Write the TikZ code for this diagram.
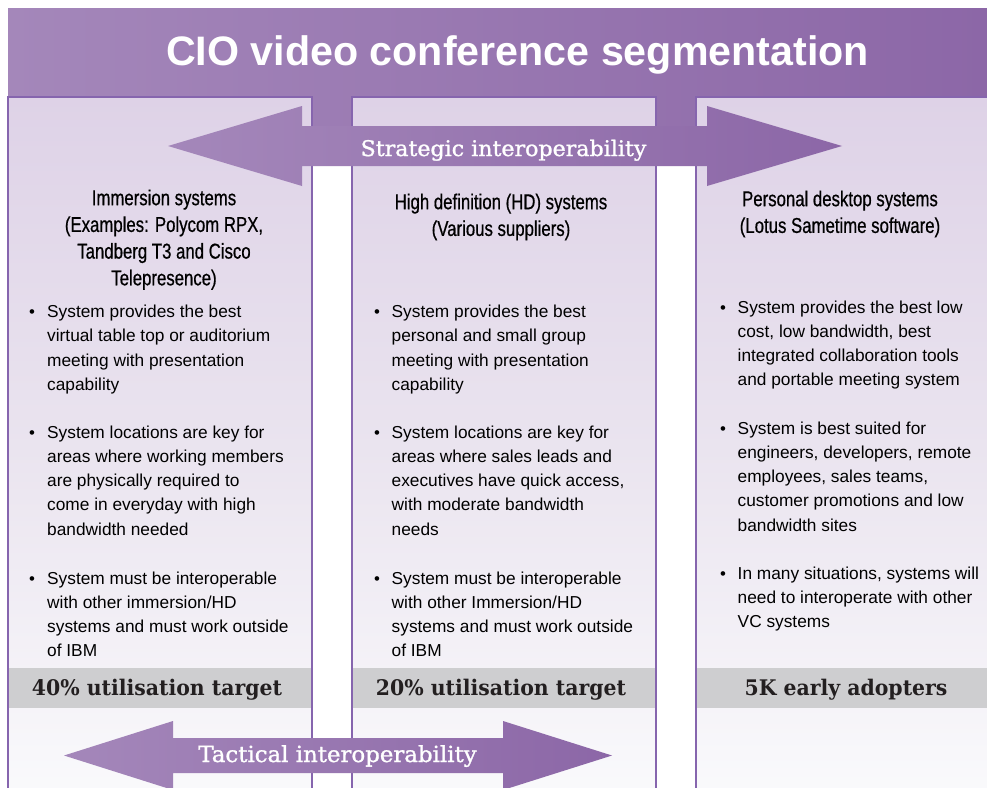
\documentclass[tikz,border=0pt]{standalone}
\usepackage{fontspec}
\setmainfont{Liberation Sans}
\newfontfamily\condfont[FakeStretch=0.78,FakeBold=0.6]{Liberation Sans}
\newfontfamily\slabfont[FakeStretch=1.03,FakeBold=1.2]{DejaVu Serif}
\newfontfamily\slabbar[FakeStretch=0.95]{DejaVu Serif}
\definecolor{purpL}{HTML}{A487BA}
\definecolor{purpR}{HTML}{8C67A7}
\definecolor{colTop}{HTML}{DED2E7}
\definecolor{colMid}{HTML}{EAE4EF}
\definecolor{colBot}{HTML}{FAFAFC}
\definecolor{colEdge}{HTML}{8665AE}
\definecolor{barGray}{HTML}{CECED0}
\definecolor{inkDark}{HTML}{231F20}
\tikzset{
  colbox/.style={draw=colEdge, line width=1.1pt, top color=colTop, bottom color=colBot, middle color=colMid},
  graybar/.style={fill=barGray, draw=none},
  purpshade/.style={left color=purpL, right color=purpR, draw=none},
  titletext/.style={font=\fontsize{41.2}{44}\selectfont\bfseries, text=white, anchor=base, inner sep=0pt},
  arrowtext/.style={font=\slabfont\fontsize{21.5}{24}\selectfont, text=white, anchor=base, inner sep=0pt},
  bartext/.style={font=\slabbar\bfseries\fontsize{21.5}{24}\selectfont, text=inkDark, anchor=base, inner sep=0pt},
  headtext/.style={font=\condfont\fontsize{21.5}{26.7}\selectfont, text=black, align=center, anchor=north, inner sep=0pt},
  bodytext/.style={font=\fontsize{17.3}{24.2}\selectfont, text=black, align=left, anchor=north west, inner sep=0pt},
  bullettext/.style={font=\fontsize{16.8}{24.2}\selectfont, text=black, anchor=base west, inner sep=0pt}
}
\newcommand{\hd}{\rule{0pt}{18pt}}
\newcommand{\bd}{\rule{0pt}{14pt}}
\begin{document}
\begin{tikzpicture}[x=1pt,y=-1pt]
\useasboundingbox (0,0) rectangle (987,787);
\clip (0,0) rectangle (987,787);
\fill[white] (0,0) rectangle (987,787);
% title band
\path[purpshade] (8,8) rectangle (987,126);
\node[titletext] (title) at (517.5,65) {CIO video conference segmentation};
% columns
\path[colbox] (8,97) rectangle (312,800);
\path[colbox] (352,97) rectangle (656,800);
\path[colbox] (696,97) rectangle (1000,800);
% gray bars
\path[graybar] (8.6,668) rectangle (311.4,708);
\path[graybar] (352.6,668) rectangle (655.4,708);
\path[graybar] (696.6,668) rectangle (987,708);
\node[bartext] (bar1) at (157,695) {40\% utilisation target};
\node[bartext] (bar2) at (501,695) {20\% utilisation target};
\node[bartext] (bar3) at (846,695) {5K early adopters};
% strategic arrow
\path[purpshade] (168,146) -- (302,106) -- (302,126) -- (707,126) -- (707,106) -- (842,146)
  -- (707,186) -- (707,166) -- (302,166) -- (302,186) -- cycle;
\node[arrowtext] (strat) at (503.5,156) {Strategic interoperability};
% tactical arrow
\path[purpshade] (64,755.5) -- (173,721) -- (173,738) -- (503,738) -- (503,721) -- (612,755.5)
  -- (503,790) -- (503,773) -- (173,773) -- (173,790) -- cycle;
\node[arrowtext, font=\slabfont\fontsize{22.2}{24}\selectfont] (tact) at (337.5,762) {Tactical interoperability};
% headings
\node[headtext] (h1) at (164,205-18) {\hd Immersion systems\\(Examples: Polycom RPX,\\Tandberg T3 and Cisco\\Telepresence)};
\node[headtext] (h2) at (501,209-18) {\hd High definition (HD) systems\\(Various suppliers)};
\node[headtext] (h3) at (840,206-18) {\hd Personal desktop systems\\(Lotus Sametime software)};
% column 1 bullets
\node[bullettext] (b11) at (29,317.5) {\textbullet};
\node[bodytext] (t11) at (47,317.5-14) {\bd System provides the best\\virtual table top or auditorium\\meeting with presentation\\capability};
\node[bullettext] (b12) at (29,438) {\textbullet};
\node[bodytext] (t12) at (47,438-14) {\bd System locations are key for\\areas where working members\\are physically required to\\come in everyday with high\\bandwidth needed};
\node[bullettext] (b13) at (29,584) {\textbullet};
\node[bodytext] (t13) at (47,584-14) {\bd System must be interoperable\\with other immersion/HD\\systems and must work outside\\of IBM};
% column 2 bullets
\node[bullettext] (b21) at (374,317.5) {\textbullet};
\node[bodytext] (t21) at (391.5,317.5-14) {\bd System provides the best\\personal and small group\\meeting with presentation\\capability};
\node[bullettext] (b22) at (374,438) {\textbullet};
\node[bodytext] (t22) at (391.5,438-14) {\bd System locations are key for\\areas where sales leads and\\executives have quick access,\\with moderate bandwidth\\needs};
\node[bullettext] (b23) at (374,584) {\textbullet};
\node[bodytext] (t23) at (391.5,584-14) {\bd System must be interoperable\\with other Immersion/HD\\systems and must work outside\\of IBM};
% column 3 bullets
\node[bullettext] (b31) at (720,313) {\textbullet};
\node[bodytext] (t31) at (737.5,313-14) {\bd System provides the best low\\cost, low bandwidth, best\\integrated collaboration tools\\and portable meeting system};
\node[bullettext] (b32) at (720,434) {\textbullet};
\node[bodytext] (t32) at (737.5,434-14) {\bd System is best suited for\\engineers, developers, remote\\employees, sales teams,\\customer promotions and low\\bandwidth sites};
\node[bullettext] (b33) at (720,579) {\textbullet};
\node[bodytext] (t33) at (737.5,579-14) {\bd In many situations, systems will\\need to interoperate with other\\VC systems};
\end{tikzpicture}
\end{document}
